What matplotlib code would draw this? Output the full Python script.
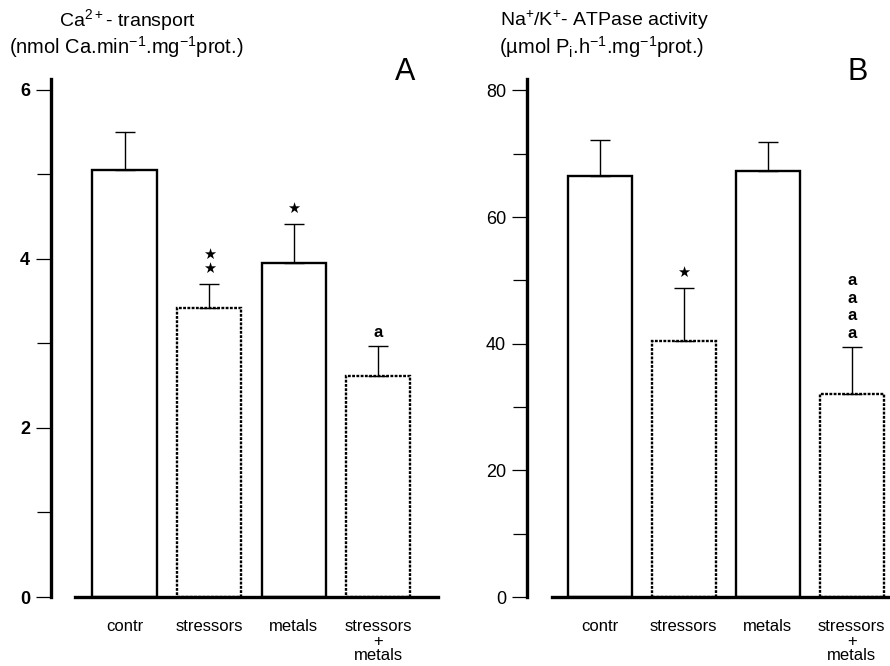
import matplotlib
matplotlib.use("Agg")
import matplotlib.pyplot as plt
from matplotlib.ticker import MultipleLocator, FixedLocator
import numpy as np

plt.rcParams['font.family'] = ['Liberation Sans', 'DejaVu Sans']
plt.rcParams['mathtext.fontset'] = 'custom'
plt.rcParams['mathtext.rm'] = 'Liberation Sans'
plt.rcParams['mathtext.default'] = 'regular'

# ---- data ----
categories = ["contr", "stressors", "metals", "stressors\n+\nmetals"]

ca_transport = [5.05, 3.42, 3.95, 2.62]
ca_sem = [0.45, 0.28, 0.46, 0.35]
ca_marks = ["", "★★", "★", "a"]
ca_ticks = [0, 2, 4, 6]

atpase = [66.5, 40.5, 67.3, 32.1]
atpase_sem = [5.6, 8.3, 4.6, 7.4]
atpase_marks = ["", "★", "", "aaaa"]
atpase_ticks = [0, 20, 40, 60, 80]

# ---- layout (pixels) ----
W, H = 890, 666
fig = plt.figure(figsize=(W / 100, H / 100), dpi=100)

dotted_edge = [False, True, False, True]


def make_panel(left, right, y0, ytop, ymax, xlim, base, values, errs,
               marks, ticks, minor, tick_weight, letter, letter_x):
    ax = fig.add_axes([left / W, (H - y0) / H, (right - left) / W, (y0 - ytop) / H])
    x = np.arange(len(values))
    for i in range(len(values)):
        ax.bar(x[i], values[i], width=0.76, color='white', edgecolor='black',
               linewidth=1.7, linestyle=(0, (1.2, 0.6)) if dotted_edge[i] else '-',
               zorder=2)
    ax.errorbar(x, values, yerr=[np.zeros(len(values)), errs], fmt='none',
                ecolor='black', elinewidth=1.0, capsize=7, capthick=1.0, zorder=3)

    for i, m in enumerate(marks):
        top = values[i] + errs[i]
        for j, ch in enumerate(m):
            if ch == 'a':
                ax.annotate(ch, (x[i], top), xytext=(0, 9.6 + 12.7 * j),
                            textcoords='offset points', ha='center', va='center',
                            fontsize=12, fontweight='bold')
            else:
                ax.annotate(ch, (x[i], top), xytext=(0, 11.5 + 10 * j),
                            textcoords='offset points', ha='center', va='center',
                            fontsize=10.5, family=['DejaVu Sans'])

    ax.set_xlim(*xlim)
    ax.set_ylim(0, ymax)
    for s in ['top', 'right']:
        ax.spines[s].set_visible(False)
    ax.spines['left'].set_linewidth(2.4)
    ax.spines['bottom'].set_linewidth(2.4)
    ax.spines['bottom'].set_bounds(*base)

    ax.yaxis.set_major_locator(FixedLocator(ticks))
    ax.yaxis.set_minor_locator(MultipleLocator(minor))
    ax.tick_params(axis='y', which='major', length=11, width=0.9, pad=4,
                   labelsize=13, direction='out')
    ax.tick_params(axis='y', which='minor', length=10, width=0.9, direction='out')
    for lab in ax.get_yticklabels():
        lab.set_fontweight(tick_weight)

    ax.set_xticks(x)
    ax.set_xticklabels(categories, fontsize=12, linespacing=0.95, va='top')
    ax.tick_params(axis='x', length=0, pad=16)

    # panel letter sits just above the top of the value axis
    ax.text(letter_x, (y0 - 72) / (y0 - ytop), letter, fontsize=22,
            ha='center', va='center', transform=ax.get_xaxis_transform())
    return ax


make_panel(51, 440, 597, 79, 6.13, (-0.87, 3.73), (-0.586, 3.71),
           ca_transport, ca_sem, ca_marks, ca_ticks, 1, 'bold', 'A', 3.32)
make_panel(527, 890, 597, 79, 81.8, (-0.865, 3.456), (-0.563, 3.456),
           atpase, atpase_sem, atpase_marks, atpase_ticks, 10, 'normal', 'B', 3.07)

# axis titles
fig.text(128 / W, 1 - 20 / H, r"Ca$^{2+}$- transport", ha='center', va='center', fontsize=14)
fig.text(126 / W, 1 - 47 / H, r"(nmol Ca.min$^{-1}$.mg$^{-1}$prot.)",
         ha='center', va='center', fontsize=14.5)
fig.text(604 / W, 1 - 20 / H, r"Na$^{+}$/K$^{+}$- ATPase activity", ha='center',
         va='center', fontsize=14)
fig.text(602 / W, 1 - 47 / H, r"(µmol P$_{i}$.h$^{-1}$.mg$^{-1}$prot.)",
         ha='center', va='center', fontsize=14.5)

fig.savefig("out.png", dpi=100)
